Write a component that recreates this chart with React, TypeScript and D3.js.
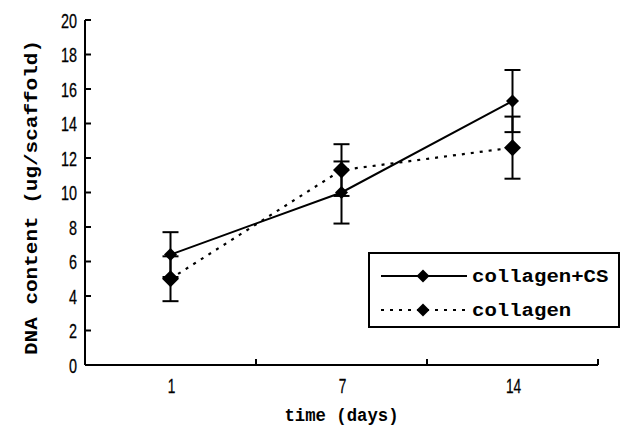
import React from "react";
import * as d3 from "d3";

const categories = ["1", "7", "14"];
const collagenCS = [6.4, 10.0, 15.3];
const collagenCSErr = [1.3, 1.8, 1.8];
const collagen = [5.0, 11.3, 12.6];
const collagenErr = [1.3, 1.5, 1.8];
const yTicks = [0, 2, 4, 6, 8, 10, 12, 14, 16, 18, 20];
const seriesNames = ["collagen+CS", "collagen"];

const W = 640;
const H = 428;
const left = 85;
const right = 598;
const top = 20;
const bottom = 365;

const mono = "'Liberation Mono', 'DejaVu Sans Mono', monospace";
const sans = "'Liberation Sans', Arial, sans-serif";

function diamond(cx: number, cy: number, r: number) {
  return `M${cx},${cy - r}L${cx + r},${cy}L${cx},${cy + r}L${cx - r},${cy}Z`;
}

export default function App() {
  const x = d3.scaleBand<string>().domain(categories).range([left, right]).padding(0);
  const y = d3.scaleLinear().domain([0, 20]).range([bottom, top]);
  const cx = (c: string) => (x(c) as number) + x.bandwidth() / 2;
  const line = d3
    .line<number>()
    .x((_, i) => cx(categories[i]))
    .y((d) => y(d));

  const bounds = [...categories.map((c) => x(c) as number), right];

  const errBars = (vals: number[], errs: number[], key: string) =>
    vals.map((v, i) => {
      const px = cx(categories[i]);
      const y1 = y(v + errs[i]);
      const y2 = y(v - errs[i]);
      return (
        <g key={key + i} stroke="#000" strokeWidth={2}>
          <line x1={px} x2={px} y1={y1} y2={y2} />
          <line x1={px - 8} x2={px + 8} y1={y1} y2={y1} />
          <line x1={px - 8} x2={px + 8} y1={y2} y2={y2} />
        </g>
      );
    });

  return (
    <svg
      width={W}
      height={H}
      style={{ position: "absolute", left: 0, top: 0, background: "#fff" }}
    >
      <rect x={0} y={0} width={W} height={H} fill="#fff" />
      {/* axes */}
      <line x1={left} x2={left} y1={top} y2={bottom} stroke="#000" strokeWidth={2} />
      <line x1={left} x2={right} y1={bottom} y2={bottom} stroke="#000" strokeWidth={2} />
      {yTicks.map((t) => (
        <g key={"yt" + t}>
          <line x1={left} x2={left + 6} y1={y(t)} y2={y(t)} stroke="#000" strokeWidth={2} />
          <text
            x={77}
            y={y(t) + 7.5}
            textAnchor="end"
            fontFamily={sans}
            fontSize={21}
            stroke="#000"
            strokeWidth={0.3}
            textLength={String(t).length * 8}
            lengthAdjust="spacingAndGlyphs"
          >
            {t}
          </text>
        </g>
      ))}
      {bounds.map((b, i) => (
        <line key={"xt" + i} x1={b} x2={b} y1={bottom} y2={bottom - 6} stroke="#000" strokeWidth={2} />
      ))}
      {categories.map((c) => (
        <text
          key={"xl" + c}
          x={cx(c) + 1}
          y={393}
          textAnchor="middle"
          fontFamily={sans}
          fontSize={21}
          stroke="#000"
          strokeWidth={0.3}
          textLength={c.length * 7.6}
          lengthAdjust="spacingAndGlyphs"
        >
          {c}
        </text>
      ))}
      <text
        x={(left + right) / 2}
        y={421}
        textAnchor="middle"
        fontFamily={mono}
        fontWeight="bold"
        fontSize={18}
        textLength={114}
        lengthAdjust="spacingAndGlyphs"
      >
        time (days)
      </text>
      <text
        transform={`translate(37, ${(40 + 355) / 2}) rotate(-90)`}
        textAnchor="middle"
        fontFamily={mono}
        fontWeight="bold"
        fontSize={19}
        textLength={315}
        lengthAdjust="spacingAndGlyphs"
      >
        DNA content  (ug/scaffold)
      </text>

      {/* error bars */}
      {errBars(collagenCS, collagenCSErr, "ecs")}
      {errBars(collagen, collagenErr, "ec")}

      {/* lines */}
      <path d={line(collagenCS) || ""} fill="none" stroke="#000" strokeWidth={2} />
      <path d={line(collagen) || ""} fill="none" stroke="#000" strokeWidth={2.2} strokeDasharray="3,6" />

      {/* markers */}
      {collagenCS.map((v, i) => (
        <path key={"mcs" + i} d={diamond(cx(categories[i]), y(v), 6.5)} fill="#000" />
      ))}
      {collagen.map((v, i) => (
        <path key={"mc" + i} d={diamond(cx(categories[i]), y(v), 8.5)} fill="#000" />
      ))}

      {/* legend */}
      <rect x={369} y={253} width={250} height={74} fill="#fff" stroke="#000" strokeWidth={2} />
      {seriesNames.map((n, i) => {
        const ly = 276 + i * 34;
        return (
          <g key={"lg" + n}>
            <line
              x1={381}
              x2={467}
              y1={ly}
              y2={ly}
              stroke="#000"
              strokeWidth={2}
              strokeDasharray={i === 1 ? "3,6" : undefined}
            />
            <path d={diamond(423, ly, 6.5)} fill="#000" />
            <text
              x={472}
              y={ly + 6}
              fontFamily={mono}
              fontWeight="bold"
              fontSize={18}
              textLength={n.length * 12.4}
              lengthAdjust="spacingAndGlyphs"
            >
              {n}
            </text>
          </g>
        );
      })}
    </svg>
  );
}
